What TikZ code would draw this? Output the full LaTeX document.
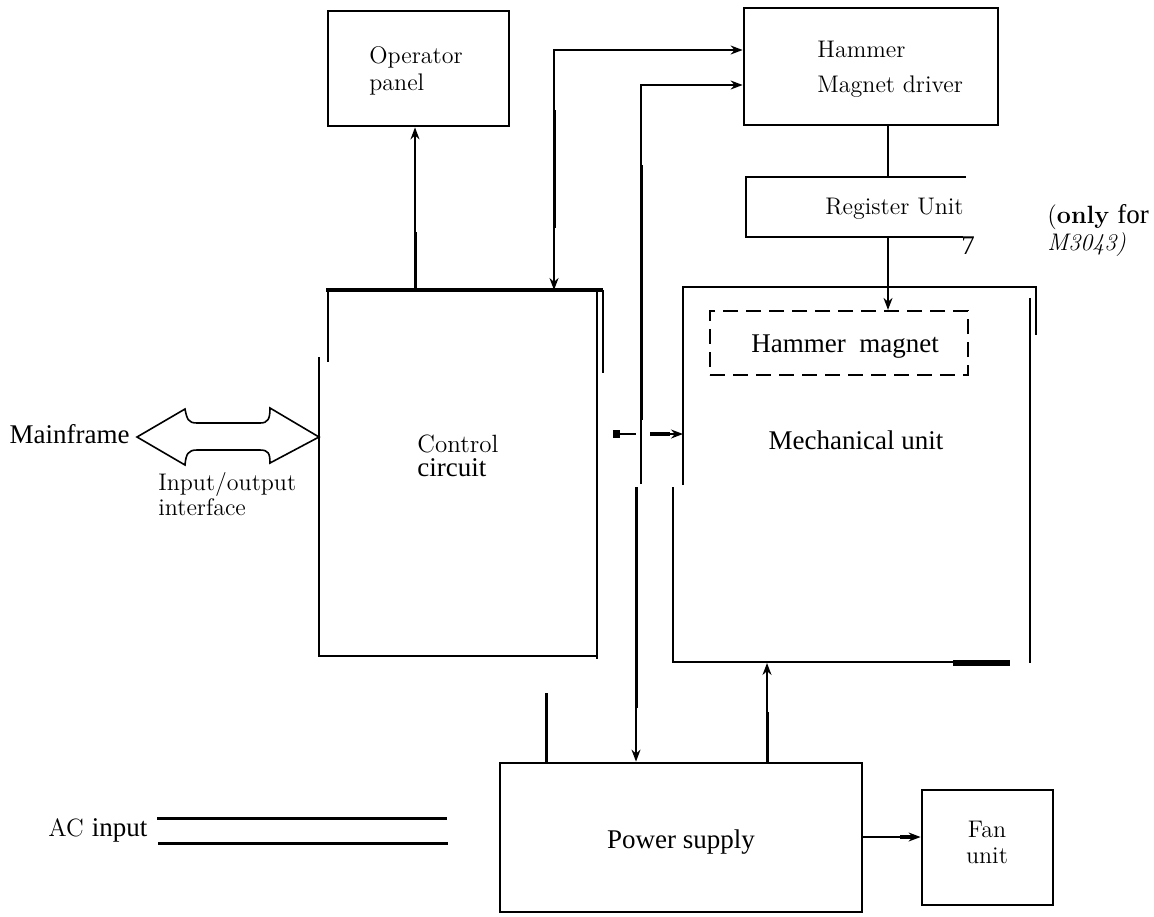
\documentclass[tikz,border=0pt]{standalone}
\usepackage{fontspec}
\setmainfont{Liberation Serif}
\newfontfamily\lmr{Latin Modern Roman}
\usetikzlibrary{arrows.meta,calc}
\begin{document}
\begin{tikzpicture}[x=0.5pt,y=-0.5pt,
  edge/.style={line width=1.4pt},
  heavy/.style={line width=1.5pt},
  thinl/.style={line width=0.7pt},
  tipst/.tip={Stealth[length=6pt,width=4.5pt]},
  conn/.style={line width=0.8pt,-tipst},
  biconn/.style={line width=0.8pt,tipst-tipst},
  lm/.style={font=\lmr\fontsize{12}{14}\selectfont, inner sep=0pt},
  tm/.style={font=\rmfamily\fontsize{13.5}{16}\selectfont, inner sep=0pt},
  blk/.style={draw, line width=1.4pt, inner sep=0pt}
]
\useasboundingbox (0,0) rectangle (1154,916);

% ---------- clean boxes ----------
\node[blk, minimum width=90.5pt, minimum height=57.5pt] (op) at (418.5,68.5) {};
\node[blk, minimum width=127pt, minimum height=58.5pt] (hd) at (871,66.5) {};
\node[blk, minimum width=181pt, minimum height=74.5pt] (ps) at (681,837.5) {};
\node[blk, minimum width=65.5pt, minimum height=57.5pt] (fan) at (987.5,847.5) {};
\node[draw, line width=1.1pt, dash pattern=on 7.5pt off 4pt, inner sep=0pt,
      minimum width=129pt, minimum height=32pt] (hm) at (839,343) {};

% ---------- control circuit (broken outline) ----------
\coordinate (ctl) at (326,290);
\coordinate (ctr) at (603,290);
\draw[line width=2pt] (ctl) -- (ctr);
\draw[edge] (328,290) -- (328,362);
\draw[edge] (319,357) -- (319,656) -- (597,656);
\draw[edge] (597,290) -- (597,659);
\draw[edge] (603,290) -- (603,373);

% ---------- mechanical unit (broken outline) ----------
\coordinate (mtl) at (683,287);
\coordinate (mtr) at (1036,287);
\draw[edge] (683,485) -- (mtl) -- (mtr) -- (1036,335);
\draw[edge] (673,487) -- (673,662) -- (953,662);
\draw[line width=2.6pt] (953,663) -- (1010,663);
\draw[edge] (1030,298) -- (1030,663);

% ---------- register unit (open right side) ----------
\coordinate (rtr) at (966,177);
\coordinate (rbr) at (963,237);
\draw[edge] (rtr) -- (746,177) -- (746,237) -- (rbr);
\node[tm, anchor=north west] (seven) at (961,236) {7};

% ---------- texts ----------
\node[lm, anchor=base west] (t1) at (369,63) {Operator};
\node[lm, anchor=base west] (t2) at (369,90) {panel};
\node[lm, anchor=base west] (t3) at (817,57) {Hammer};
\node[lm, anchor=base west] (t4) at (817,92) {Magnet driver};
\node[lm, anchor=base east] (t5) at (964,214) {Register Unit};
\node[anchor=base west, inner sep=0pt] (t6) at (1047,223)
  {\lmr\fontsize{12.5}{14}\selectfont (\textbf{only} {\rmfamily\fontsize{13.5}{16}\selectfont for}};
\node[lm, anchor=base west] (t7) at (1047,250) {\itshape M3043)};
\node[tm, anchor=base] (t8) at (845,352) {Hammer\ \ magnet};
\node[tm, anchor=base] (t9) at (856,449) {Mechanical unit};
\node[lm, anchor=base west, font=\lmr\fontsize{12.5}{14}\selectfont] (t10) at (417,452) {Control};
\node[tm, anchor=base west] (t11) at (417,476) {circuit};
\node[tm, anchor=base east] (t12) at (130,443) {Mainframe};
\node[lm, anchor=base west] (t13) at (158,490) {Input/output};
\node[lm, anchor=base west] (t14) at (158,515) {interface};
\node[anchor=base west, inner sep=0pt] (t15) at (48,836)
  {\lmr\fontsize{12.5}{14}\selectfont AC {\rmfamily\fontsize{13.5}{16}\selectfont input}};
\node[tm, anchor=base] (t16) at (681,848) {Power supply};
\node[lm, anchor=base] (t17) at (987,837) {Fan};
\node[lm, anchor=base] (t18) at (987,863) {unit};

% ---------- double arrow (input/output interface) ----------
\draw[line width=0.8pt, line join=miter]
  (137,437) -- (185,409) .. controls (187,419) and (188,423) .. (197,423)
  -- (260,423) .. controls (268,423) and (270,419) .. (270,408)
  -- (319,437) -- (270,463) .. controls (270,453) and (268,450) .. (260,450)
  -- (197,450) .. controls (188,450) and (186,454) .. (185,465) -- cycle;

% ---------- connectors ----------
% control -> operator panel
\coordinate (c1) at (415,290);
\draw[conn] (c1) -- (c1 |- op.south);
\draw[heavy] (c1) -- (415,232);

% control <-> hammer magnet driver (outer)
\coordinate (c2) at (554,290);
\coordinate (k2) at (554,50);
\draw[biconn] (c2) -- (k2) -- (k2 -| hd.west);
\draw[heavy] (554,110) -- (554,228);

% hammer magnet driver <- ... -> power supply (inner)
\coordinate (k3) at (641,85);
\coordinate (j3) at (641,484);
\coordinate (j4) at (636,487);
\draw[conn] (j3) -- (k3) -- (k3 -| hd.west);
\draw[conn] (j4) -- (j4 |- ps.north);
\draw[heavy] (641,165) -- (641,420);
\draw[heavy] (636,487) -- (636,708);

% driver -- register unit
\coordinate (r0) at (888,125);
\coordinate (r1) at (888,177);
\coordinate (r2) at (888,237);
\draw[thinl] (r0) -- (r1);
% register unit -> hammer magnet
\draw[conn] (r2) -- (r2 |- hm.north);

% broken connector to mechanical unit
\fill (613,430) rectangle (620,438);
\coordinate (d1) at (620,434);
\coordinate (d2) at (636,434);
\coordinate (d3) at (650,434);
\coordinate (d4) at (683,434);
\draw[line width=1.4pt] (d1) -- (d2);
\draw[conn] (d3) -- (d4);
\draw[line width=1.6pt] (d3) -- (670,434);

% power supply -> mechanical unit
\coordinate (p1) at (767,763);
\coordinate (p2) at (767,663);
\draw[conn] (p1) -- (p2);
\draw[heavy] (p1) -- (767,712);

% stub from power supply
\draw[heavy] (546,693) -- (546,763);

% power supply -> fan unit
\coordinate (f1) at (862,837);
\draw[conn] (f1) -- (f1 -| fan.west);
\draw[line width=2.2pt] (900,837) -- (915,837);

% AC input lines
\draw[line width=1.5pt] (157,818) -- (447,818);
\draw[line width=1.5pt] (158,843) -- (448,843);
\end{tikzpicture}
\end{document}
